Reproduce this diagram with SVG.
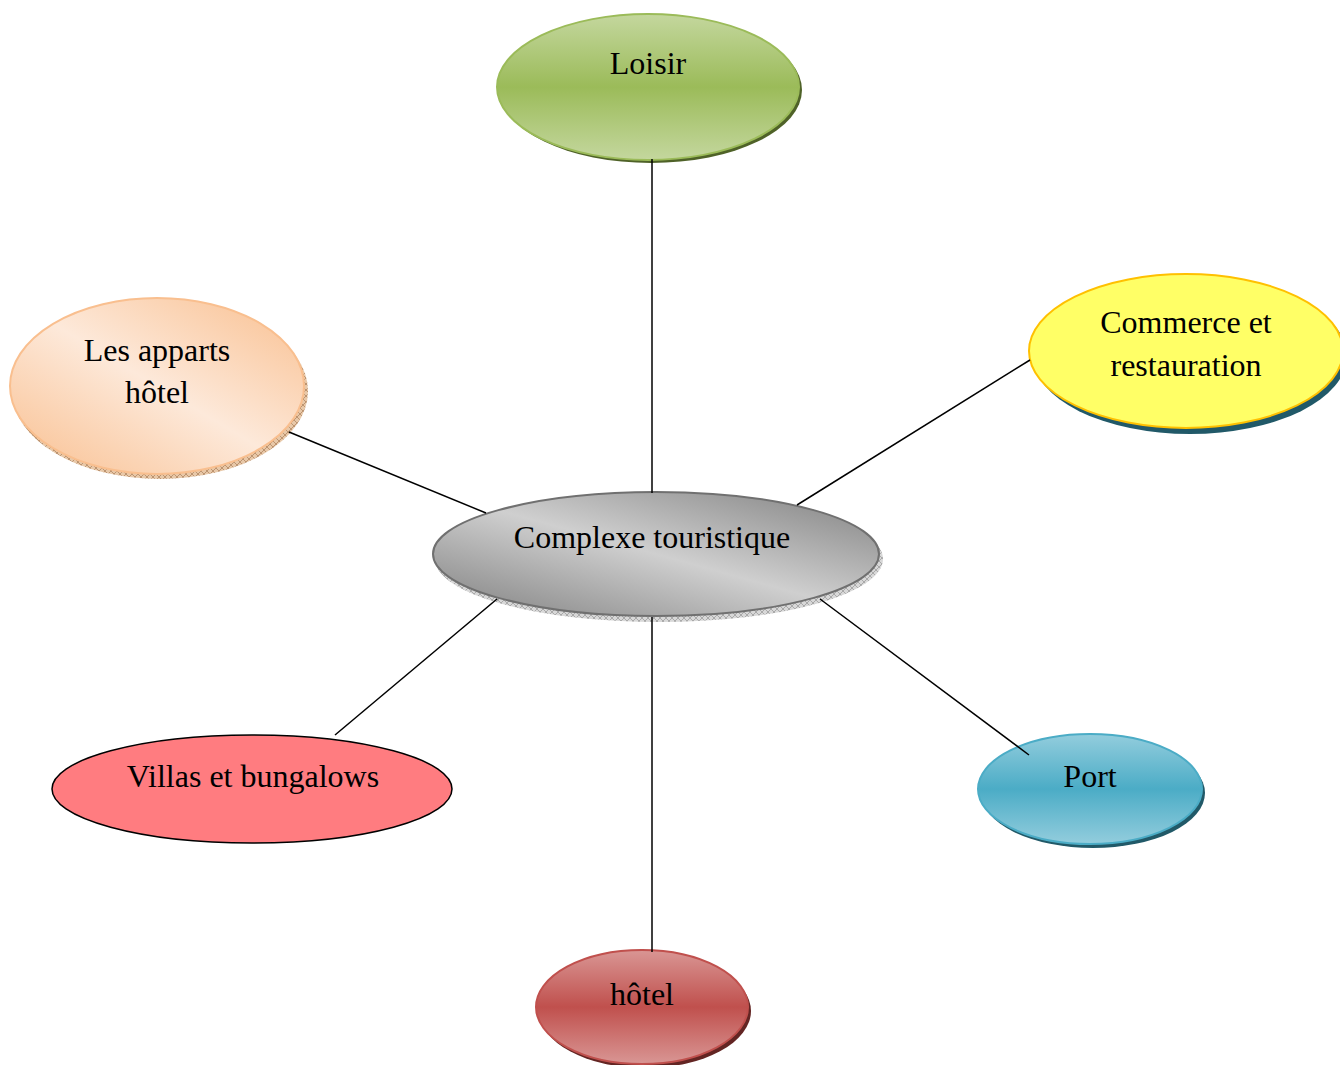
<svg xmlns="http://www.w3.org/2000/svg" width="1340" height="1065" viewBox="0 0 1340 1065">
<defs>
<linearGradient id="gGreen" x1="0" y1="0" x2="0" y2="1">
<stop offset="0" stop-color="#c4d79e"/><stop offset="0.5" stop-color="#9bbb59"/><stop offset="1" stop-color="#c4d79e"/>
</linearGradient>
<linearGradient id="gBlue" x1="0" y1="0" x2="0" y2="1">
<stop offset="0" stop-color="#93cddd"/><stop offset="0.5" stop-color="#4bacc6"/><stop offset="1" stop-color="#93cddd"/>
</linearGradient>
<linearGradient id="gRed" x1="0" y1="0" x2="0" y2="1">
<stop offset="0" stop-color="#d99694"/><stop offset="0.5" stop-color="#c0504d"/><stop offset="1" stop-color="#d99694"/>
</linearGradient>
<linearGradient id="gPeach" x1="0" y1="1" x2="1" y2="0">
<stop offset="0" stop-color="#f9bf8f"/><stop offset="0.5" stop-color="#fde9da"/><stop offset="1" stop-color="#f9bf8f"/>
</linearGradient>
<linearGradient id="gGray" x1="0" y1="1" x2="1" y2="0">
<stop offset="0" stop-color="#7f7f7f"/><stop offset="0.5" stop-color="#cfcfcf"/><stop offset="1" stop-color="#7f7f7f"/>
</linearGradient>
<pattern id="hatchPeach" width="6" height="6" patternUnits="userSpaceOnUse">
<rect width="6" height="6" fill="#e8c8a8"/><path d="M0 6L6 0M0 0L6 6" stroke="#a0704a" stroke-width="0.6"/>
</pattern>
<pattern id="hatchGray" width="6" height="6" patternUnits="userSpaceOnUse">
<rect width="6" height="6" fill="#d8d8d8"/><path d="M0 6L6 0M0 0L6 6" stroke="#8a8a8a" stroke-width="0.6"/>
</pattern>
</defs>
<style>
text{font-family:"Liberation Serif","Times New Roman",serif;font-size:32px;fill:#000;text-anchor:middle}
.edge{stroke:#000;stroke-width:1.5;fill:none}
</style>
<rect width="1340" height="1065" fill="#fff"/>

<g id="node-loisir">
<ellipse cx="651" cy="90" rx="151" ry="73" fill="#4f6228"/>
<ellipse cx="648" cy="87" rx="151" ry="73" fill="url(#gGreen)" stroke="#9bbb59" stroke-width="2"/>
<text x="648" y="74">Loisir</text>
</g>

<g id="node-commerce">
<ellipse cx="1190" cy="356" rx="157" ry="78" fill="#215968"/>
<ellipse cx="1186" cy="351" rx="157" ry="77" fill="#ffff66" stroke="#ffc000" stroke-width="2"/>
<text x="1186" y="333">Commerce et</text>
<text x="1186" y="376">restauration</text>
</g>

<g id="node-apparts">
<ellipse cx="160" cy="391" rx="148" ry="88" fill="url(#hatchPeach)"/>
<ellipse cx="157" cy="386" rx="147" ry="88" fill="url(#gPeach)" stroke="#f9bf8f" stroke-width="2"/>
<text x="157" y="361">Les apparts</text>
<text x="157" y="403">hôtel</text>
</g>

<g id="node-center">
<ellipse cx="659" cy="559" rx="224" ry="63" fill="url(#hatchGray)"/>
<ellipse cx="656" cy="554" rx="223" ry="62" fill="url(#gGray)" stroke="#707070" stroke-width="2"/>
<text x="652" y="548">Complexe touristique</text>
</g>

<g id="node-villas">
<ellipse cx="252" cy="789" rx="200" ry="54" fill="#ff7c80" stroke="#000" stroke-width="1.5"/>
<text x="253" y="787">Villas et bungalows</text>
</g>

<g id="node-port">
<ellipse cx="1093" cy="793" rx="112" ry="55" fill="#215968"/>
<ellipse cx="1090" cy="789" rx="112" ry="55" fill="url(#gBlue)" stroke="#4bacc6" stroke-width="2"/>
<text x="1090" y="787">Port</text>
</g>

<g id="node-hotel">
<ellipse cx="645" cy="1011" rx="106" ry="57" fill="#632523"/>
<ellipse cx="642" cy="1007" rx="106" ry="57" fill="url(#gRed)" stroke="#c0504d" stroke-width="2"/>
<text x="642" y="1005">hôtel</text>
</g>

<g id="connectors">
<line class="edge" x1="652" y1="159" x2="652" y2="493"/>
<line class="edge" x1="289" y1="432" x2="486" y2="513"/>
<line class="edge" x1="1030" y1="360" x2="797" y2="505"/>
<line class="edge" x1="497" y1="599" x2="335" y2="735"/>
<line class="edge" x1="820" y1="599" x2="1029" y2="755"/>
<line class="edge" x1="652" y1="617" x2="652" y2="952"/>
</g>
</svg>
